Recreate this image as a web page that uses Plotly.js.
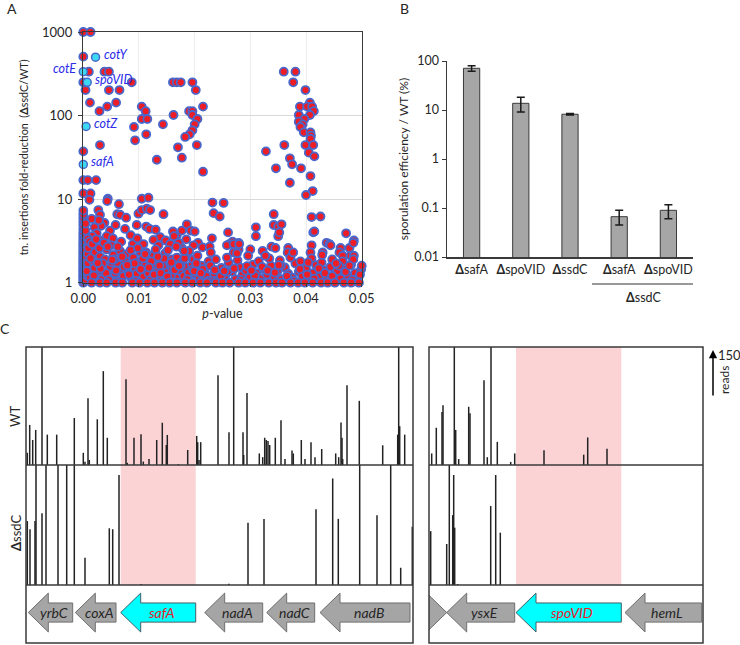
<!DOCTYPE html>
<html><head><meta charset="utf-8">
<script src="https://cdn.plot.ly/plotly-3.0.1.min.js"></script>
<style>html,body{margin:0;padding:0;background:#fff}#chart{width:740px;height:645px}</style>
</head><body><div id="chart"></div>
<script>
// ===== Panel A: transposon screen (p-value vs fold-reduction) =====
const highP = [0,0.0013,0,0.001,0.0038,0.0046,0,0.0087,0.0161,0.0168,0.0175,0.0196,0.0004,0.0046,0.0065,0.0202,0.0012,0.0059,0.0043,0.0029,0.0105,0.0112,0.019,0.0196,0.0215,0.0162,0.0196,0.0105,0.0115,0.0205,0.02,0.0143,0.0091,0.0113,0.0196,0.0191,0.0183,0.0093,0.0204,0.003,0.017,0,0.0177,0.0132,0.0215,0,0.0008,0.0023,0,0.0013,0.0044,0.0105,0.0117];
const highFold = [1000,1000,507,335,335,335,250,250,250,250,250,250,202,202,202,202,143,143,128,113,128,113,113,113,128,101.6,101.6,91,91,91,78.5,78.5,73,59.7,66.6,59.7,55.5,50.6,44.4,44.4,41.7,37.3,31.3,29.6,21.3,16.9,16.9,16.9,11.7,11.7,10.1,10.1,10.4];
const rightClusterP = [0.036,0.0381,0.0377,0.0399,0.0407,0.0389,0.0402,0.0411,0.0414,0.0387,0.0407,0.0397,0.0387,0.0394,0.039,0.0396,0.0408,0.0409,0.0408,0.0361,0.0399,0.0413,0.0328,0.0405,0.0371,0.0415,0.0375,0.0346,0.0391,0.0408,0.0371,0.0412,0.04];
const rightClusterFold = [335,335,250,202,143,128,128,128,113,101.6,101.6,91,84.5,78.5,73,63,63,57.4,52.5,44.4,44.4,44.4,37.3,36,30.8,32.5,26.1,23.4,23.4,18.9,15.7,12.5,11.2];
const midP = [0.0011,0.0043,0.0064,0.0027,0.003,0.0038,0.0032,0.0048,0.0061,0.0066,
0.0077,0.0075,0.0096,0.0099,0.0105,0.0114,0.012,0.0113,0.0119,0.0144,
0.0138,0.0126,0.0168,0.0161,0.0177,0.0186,0.0193,0.02,0.0206,0.0177,
0.0214,0.0227,0.0231,0.0234,0.0232,0.0245,0.0252,0.026,0.0268,0.0262,
0.0279,0.0279,0.027,0.03,0.031,0.0322,0.031,0.0342,0.0342,0.035,
0.0356,0.035,0.0338,0.0345,0.0368,0.0367,0.041,0.0408,0.041,0.0413,
0.0426,0.0437,0.0442,0.043,0.0444,0.0472,0.0478,0.0486,0.0485,0.048,
0.0462,0.046,0.0466,0.0486,0.0015,0.002,0.0024,0.0016,0.0028,0.0035,
0.0042,0.0053,0.0058,0.0068,0.0085,0.0089,0.0097,0.0108,0.013,0.0135,
0.0148,0.0156,0.0163,0.0171,0.0185,0.0198,0.0258,0.027,0.028,0.0352,
0.0415];
const midFold = [9.8,9.5,8.7,7.4,6.5,5.2,4.8,4.2,6.6,6.5,
6.0,4.4,4.9,6.7,7.4,7.7,7.4,4.7,4.4,6.6,
3.5,3.25,3.7,4.1,4.2,5.0,4.2,4.1,3.0,2.6,
2.65,2.7,3.4,6.8,9.1,6.2,9.0,4.0,3.1,2.9,
3.0,2.5,2.3,2.5,4.6,2.4,3.6,6.6,4.9,4.7,
5.0,3.6,2.7,2.6,2.6,2.3,2.8,2.3,6.1,4.0,
6.2,3.0,2.9,2.3,2.8,3.9,2.6,3.2,3.0,2.1,
2.6,2.3,2.1,2.1,5.8,4.6,3.9,3.6,5.6,3.2,
3.6,3.4,4.9,3.1,3.7,2.9,3.4,2.9,4.3,2.8,
3.2,2.9,3.6,3.0,3.3,2.8,2.8,2.9,2.9,4.0,
4.1];
const axisColP = [0,0,0,0,0,0,0,0,0,0, 0,0,0,0,0,0,0,0,0,0, 0,0,0,0,0,0,0,0,0,0,
0.0004,0.0004,0.0004,0.0004,0.0004,0.0004,0.0004,0.0004,0.0004,0.0004,
0.0008,0.0008,0.0008,0.0008,0.0008,0.0008];
const axisColFold = [1.0,1.06,1.12,1.18,1.23,1.31,1.37,1.44,1.52,1.61,
1.7,1.79,1.9,2.02,2.15,2.28,2.42,2.6,2.78,2.95,
3.15,3.4,3.7,4.0,4.4,4.9,5.4,6.0,6.6,7.3,
1.09,1.27,1.48,1.76,2.08,2.5,3.05,3.55,4.2,5.1,
1.2,1.42,1.72,2.2,2.75,3.35];
const bandLeftP = [0.0012,0.0015,0.0018,0.0021,0.0024,0.0027,0.003,0.0033,0.0036,0.0039,
0.0042,0.0045,0.0048,0.0051,0.0054,0.0057,0.006,0.0063,0.0066,0.0069,
0.0072,0.0075,0.0078,0.0081,0.0084,0.0087,0.009,0.0093,0.0096,0.0099,
0.0102,0.0105,0.0108,0.0111,0.0114,0.0117,0.012,0.0123,0.0126,0.0129,
0.0132,0.0135,0.0138,0.0141,0.0144,0.0147,0.015,0.0153,0.0156,0.0159,
0.0162,0.0165,0.0168,0.0171,0.0174,0.0177,0.018,0.0183,0.0186,0.0189,
0.0192,0.0195,0.0198,0.0201,
0.0013,0.002,0.0029,0.0035,0.0041,0.005,0.0056,0.0062,0.007,0.0077,
0.0085,0.0092,0.0098,0.0107,0.0113,0.0122,0.013,0.0137,0.0145,0.0152,
0.016,0.0167,0.0175,0.0182,0.019,0.0197,0.0205,0.0212,0.0218,0.0225,
0.0232,0.0009,0.0011,0.0016,0.0023,0.0037,0.0044];
const bandLeftFold = [1.15,1.42,1.8,2.3,1.25,1.6,2.05,1.1,1.35,1.9,
2.5,1.2,1.55,1.75,2.15,1.3,1.05,1.65,2.4,1.45,
1.2,1.85,2.2,1.35,1.6,1.12,2.0,1.5,1.28,1.75,
2.35,1.4,1.18,1.62,1.95,1.3,1.08,1.52,2.1,1.7,
1.22,1.4,1.85,1.15,1.58,2.25,1.33,1.1,1.68,1.9,
1.25,1.48,2.0,1.15,1.38,1.78,1.2,1.55,2.2,1.32,
1.05,1.62,1.9,1.28,
1.95,1.5,2.6,1.7,1.3,2.8,1.9,2.7,2.05,1.55,
2.45,1.7,2.6,1.95,2.3,1.8,2.5,1.6,1.95,2.45,
1.45,2.7,1.6,1.95,2.4,1.45,2.1,1.6,1.35,1.8,
1.15,2.6,3.1,2.9,3.3,3.0,2.7];
const bandRightP = [0.0208,0.0215,0.0221,0.0228,0.0235,0.0242,0.0248,0.0255,0.0261,0.0267,
0.0273,0.028,0.0286,0.0292,0.0299,0.0305,0.0311,0.0318,0.0324,0.033,
0.0337,0.0343,0.0349,0.0356,0.0362,0.0368,0.0375,0.0381,0.0387,0.0393,
0.04,0.0406,0.0412,0.0418,0.0425,0.0431,0.0437,0.0444,0.045,0.0456,
0.0462,0.0469,0.0475,0.0481,0.0488,0.0494,0.0499,
0.0238,0.0258,0.0277,0.0296,0.0315,0.0334,0.0353,0.0372,0.039,0.041,
0.0428,0.0447,0.0466,0.0485,0.05];
const bandRightFold = [1.12,1.45,1.2,1.6,1.3,1.08,1.5,1.22,1.75,1.35,
1.1,1.55,1.25,1.4,1.15,1.65,1.3,1.12,1.45,1.25,
1.6,1.18,1.38,1.1,1.52,1.28,1.15,1.7,1.35,1.2,
1.5,1.08,1.3,1.62,1.18,1.42,1.1,1.55,1.25,1.38,
1.12,1.48,1.22,1.65,1.3,1.15,1.45,
1.9,2.0,1.85,2.1,1.8,1.95,1.85,2.0,1.8,1.95,
1.75,1.9,1.8,1.9,1.6];
const extraBandP = [0.0006,0.0019,0.0031,0.0046,0.0059,0.0073,0.0082,0.0094,0.0103,0.0118,
0.0127,0.0139,0.0151,0.0164,0.0172,0.0187,0.0199,0.0211,0.0224,0.0236,
0.0247,0.0259,0.0271,0.0283,0.0294,0.0308,0.0321,0.0331,0.0344,0.0355,
0.0366,0.0378,0.0389,0.0402,0.0415,0.0423,0.0434,0.0447,0.0459,0.0471,
0.0483,0.0497,
0.0026,0.0052,0.0079,0.0111,0.0134,0.0158,0.0181,0.0203,0.0229,0.0253,
0.0276,0.0302,0.0327,0.0351,0.0377,0.0404,0.0429,0.0454,0.0478];
const extraBandFold = [1.38,1.22,1.48,1.08,1.4,1.55,1.25,1.05,1.45,1.52,
1.25,1.3,1.18,1.42,1.58,1.1,1.38,1.3,1.05,1.42,
1.2,1.35,1.48,1.08,1.58,1.22,1.55,1.4,1.32,1.6,
1.2,1.05,1.45,1.25,1.12,1.48,1.3,1.2,1.6,1.35,
1.08,1.25,
1.72,1.88,1.62,2.2,2.05,1.75,2.4,1.7,2.3,1.38,
2.25,1.4,2.1,1.62,2.3,1.75,2.15,1.7,1.6];
const bottomRowP = [0.0015,0.003,0.0042,0.0058,0.007,0.0088,0.0101,0.0115,0.0128,0.0142,0.0155,0.0168,0.0183,0.0196,0.021,0.0222,0.0238,0.025,0.0263,0.0279,0.0291,0.0305,0.0318,0.0333,0.0346,0.0357,0.0372,0.0386,0.0398,0.0412,0.0427,0.0439,0.0452,0.0468,0.0481,0.0495];
const bottomRowFold = [1,1,1,1,1,1,1,1,1,1,1,1,1,1,1,1,1,1,1,1,1,1,1,1,1,1,1,1,1,1,1,1,1,1,1,1];
const hlGenes = ['cotY','cotE','spoVID','cotZ','safA'];
const hlP = [0.0022,0,0.0007,0.0005,0];
const hlFold = [500,335,250,74,26];
const hlSide = ['right','left','right','right','right'];
const aTicks = [1,10,100,1000];
const aTickText = ['1','10','100','1000'];

// ===== Panel B: sporulation efficiency =====
const bLabels = ['<b>Δ</b>safA','<b>Δ</b>spoVID','<b>Δ</b>ssdC','<b>Δ</b>safA','<b>Δ</b>spoVID'];
const bValue = [71,13.7,8.2,0.0665,0.0897];
const bUpper = [80,18.2,8.45,0.0897,0.117];
const bLower = [61.6,9.1,7.95,0.045,0.0605];
const bTicks = [0.01,0.1,1,10,100];
const bTickText = ['0.01','0.1','1','10','100'];

// ===== Panel C: Tn-seq read profiles (position in bp, reads) =====
const wtLeftPos = [13,37,67,97,160,213,307,483,573,590,620,633,713,773,813,1000,1013,1080,1150,1173,1230,1307,1363,1403,1413,1523,1617,1707,1717,1730,1747,1920,2030,2077,2170,2177,2210,2333,2367,2387,2403,2420,2437,2493,2550,2590,2660,2673,2753,2790,2850,2890,2957,3097,3127,3150,3160,3167,3210,3333,3567,3717,3727,3737,3787];
const wtLeftReads = [39,128,80,112,400,97,97,150,39,10,213,16,146,300,87,274,7,87,98,11,19,80,135,64,96,3,48,93,73,16,73,287,105,400,105,32,230,37,25,87,80,77,64,87,143,19,46,37,80,19,73,25,51,37,25,136,87,19,255,205,63,97,400,124,97];
const ssdcLeftPos = [13,40,90,100,160,200,320,407,483,590,833,867,930,1150,2030,2220,2380,2900,3067,3123,3337,3510,3647,3747,3863];
const ssdcLeftReads = [204,178,204,400,229,400,400,400,400,87,181,178,351,3,4,199,211,242,340,211,400,223,400,55,186];
const wtRightPos = [27,73,130,140,253,267,297,397,410,550,583,620,683,817,857,1150,1547,1587,1780];
const wtRightReads = [37,119,169,191,400,112,19,186,165,271,25,400,74,10,37,47,33,88,52];
const ssdcRightPos = [17,177,203,237,247,257,287,617,667,713];
const ssdcRightReads = [172,131,400,223,351,183,3,252,351,167];
const leftGenes = ['yrbC','coxA','safA','nadA','nadC','nadB'];
const leftStart = [23,493,947,1787,2407,2940];
const leftEnd = [467,900,1697,2367,2887,3840];
const leftStrand = ['-','-','-','-','-','-'];
const rightGenes = ['','ysxE','spoVID','hemL'];
const rightStart = [-600,177,870,1960];
const rightEnd = [177,857,1923,2727];
const rightStrand = ['+','-','-','-'];
const leftTarget = 'safA', rightTarget = 'spoVID';
const leftSpan = 3870, rightSpan = 2740;
const scaleReads = 150;

// ===== drawing =====
const W = 740, H = 645;
const px = v => v / W, py = v => 1 - v / H;
const FONT = 'Lato, "Noto Sans", sans-serif';
const TXT = '#262626';
const traces = [];
const shapes = [];
const ann = [];
function note(o){ ann.push(Object.assign({xanchor:'center', yanchor:'middle', showarrow:false}, o)); }

const allP = [].concat(highP, rightClusterP, midP, axisColP, bandLeftP, bandRightP, extraBandP, bottomRowP);
const allFold = [].concat(highFold, rightClusterFold, midFold, axisColFold, bandLeftFold, bandRightFold, extraBandFold, bottomRowFold);
traces.push({type:'scatter', mode:'markers', x:allP, y:allFold, xaxis:'x', yaxis:'y', cliponaxis:false,
  marker:{size:8, color:'#EE1C24', line:{color:'#4868CC', width:1.8}}, hoverinfo:'skip', showlegend:false});
traces.push({type:'scatter', mode:'markers', x:hlP, y:hlFold, xaxis:'x', yaxis:'y', cliponaxis:false,
  marker:{size:8, color:'#3DD8F2', line:{color:'#4868CC', width:1.5}}, hoverinfo:'skip', showlegend:false});
hlGenes.forEach((g,i)=>{
  note({xref:'x', yref:'y', x:hlP[i], y:Math.log10(hlFold[i]), text:'<i>'+g+'</i>',
    xanchor: hlSide[i]==='right'?'left':'right', xshift: hlSide[i]==='right'?6:-5, yshift:3,
    font:{family:FONT, size:12.5, color:'#2B2BE8'}});
});

// Panel B
const bx = bValue.map((_,i)=>i);
traces.push({type:'bar', x:bx, y:bValue, xaxis:'x2', yaxis:'y2', width:0.33,
  marker:{color:'#A6A6A6', line:{color:'#3a3a3a', width:1}},
  error_y:{type:'data', symmetric:false, array:bUpper.map((u,i)=>u-bValue[i]), arrayminus:bLower.map((l,i)=>bValue[i]-l),
    color:'#1a1a1a', thickness:1.5, width:4}, hoverinfo:'skip', showlegend:false});
shapes.push({type:'line', xref:'paper', yref:'paper', x0:px(592), x1:px(693), y0:py(284), y1:py(284), line:{color:'#333', width:1}});
note({xref:'paper', yref:'paper', x:px(643), y:py(297), text:'<b>Δ</b>ssdC', font:{family:FONT, size:12.5, color:TXT}});

// Panel C spikes
function spikes(pos, reads, xa, ya){
  traces.push({type:'bar', x:pos, y:reads, xaxis:xa, yaxis:ya, width:15, marker:{color:'#222', line:{width:0}}, hoverinfo:'skip', showlegend:false});
}
spikes(wtLeftPos, wtLeftReads, 'x3', 'y3');
spikes(ssdcLeftPos, ssdcLeftReads, 'x3', 'y4');
spikes(wtRightPos, wtRightReads, 'x4', 'y6');
spikes(ssdcRightPos, ssdcRightReads, 'x4', 'y7');

// gene arrows
const HEAD = 200, BODY = 0.33, HEADW = 0.67, CY = 0.05;
function genes(names, st, en, strand, target, xa, ya){
  names.forEach((g,i)=>{
    const s = st[i], e = en[i];
    let xs, ys;
    if (strand[i]==='-'){
      const b = s + HEAD;
      xs = [s, b, b, e, e, b, b, s];
    } else {
      const b = e - HEAD;
      xs = [e, b, b, s, s, b, b, e];
    }
    ys = [CY, CY+HEADW, CY+BODY, CY+BODY, CY-BODY, CY-BODY, CY-HEADW, CY];
    const isT = g===target;
    traces.push({type:'scatter', mode:'lines', x:xs, y:ys, xaxis:xa, yaxis:ya, fill:'toself',
      fillcolor: isT ? '#00FFFF' : '#A5A5A5', line:{color: isT ? '#3f5f66' : '#6f6f6f', width:1},
      hoverinfo:'skip', showlegend:false});
    if (g) note({xref:xa, yref:ya, x:(s+e)/2+38, y:CY, text:'<i>'+g+'</i>',
      font:{family:FONT, size:14, color: isT ? '#E8202A' : '#262626'}});
    if (isT) shapes.push({type:'rect', xref:xa, yref:'paper', x0:s, x1:e, y0:py(585), y1:py(347),
      fillcolor:'#FBD3D5', line:{width:0}, layer:'below'});
  });
}
genes(leftGenes, leftStart, leftEnd, leftStrand, leftTarget, 'x3', 'y5');
genes(rightGenes, rightStart, rightEnd, rightStrand, rightTarget, 'x4', 'y8');

// frames for panel C
[[26,413],[429,703]].forEach(([a,b])=>{
  shapes.push({type:'rect', xref:'paper', yref:'paper', x0:px(a), x1:px(b), y0:py(643), y1:py(347), line:{color:'#3a3a3a', width:1.5}, layer:'above'});
  shapes.push({type:'line', xref:'paper', yref:'paper', x0:px(a), x1:px(b), y0:py(465), y1:py(465), line:{color:'#3a3a3a', width:1.5}, layer:'above'});
  shapes.push({type:'line', xref:'paper', yref:'paper', x0:px(a), x1:px(b), y0:py(585), y1:py(585), line:{color:'#3a3a3a', width:1.5}, layer:'above'});
});
note({xref:'paper', yref:'paper', x:px(15), y:py(417), text:'WT', textangle:-90, font:{family:FONT, size:13, color:TXT}});
note({xref:'paper', yref:'paper', x:px(16), y:py(533), text:'<b>Δ</b>ssdC', textangle:-90, font:{family:FONT, size:13, color:TXT}});
// scale bar (150 reads)
ann.push({xref:'paper', yref:'paper', x:px(713), y:py(350), ax:0, ay:47, text:'', showarrow:true, arrowhead:2, arrowsize:1.1, arrowwidth:1.5, arrowcolor:'#000'});
note({xref:'paper', yref:'paper', x:px(716), y:py(355), xanchor:'left', text:String(scaleReads), font:{family:FONT, size:13, color:TXT}});
note({xref:'paper', yref:'paper', x:px(724), y:py(380), text:'reads', textangle:-90, font:{family:FONT, size:12, color:TXT}});

// panel letters
note({xref:'paper', yref:'paper', x:px(12), y:py(8), text:'A', font:{family:FONT, size:14, color:TXT}});
note({xref:'paper', yref:'paper', x:px(405), y:py(8), text:'B', font:{family:FONT, size:14, color:TXT}});
note({xref:'paper', yref:'paper', x:px(5), y:py(329), text:'C', font:{family:FONT, size:14, color:TXT}});

const hid = {visible:false, fixedrange:true};
const layout = {
  width:W, height:H, margin:{l:0, r:0, t:0, b:0}, paper_bgcolor:'#fff', plot_bgcolor:'rgba(0,0,0,0)',
  font:{family:FONT, color:TXT, size:12}, showlegend:false, hovermode:false, barmode:'overlay',
  xaxis:{domain:[px(83.3), px(361.7)], range:[0,0.05], anchor:'y', tickvals:[0,0.01,0.02,0.03,0.04,0.05], tickformat:'.2f',
    showgrid:true, gridcolor:'#ececec', gridwidth:1, zeroline:false, showline:true, mirror:true, linecolor:'#3a3a3a', linewidth:1.5,
    ticks:'outside', ticklen:3, tickcolor:'#3a3a3a', tickfont:{size:13, color:TXT},
    title:{text:'<i>p</i>-value', font:{size:12.5, color:TXT}, standoff:4}},
  yaxis:{domain:[py(282.7), py(32)], type:'log', range:[0,3], anchor:'x', tickvals:aTicks, ticktext:aTickText,
    showgrid:true, gridcolor:'#d9d9d9', gridwidth:1, zeroline:false, showline:true, mirror:true, linecolor:'#3a3a3a', linewidth:1.5,
    ticks:'outside', ticklen:4, tickcolor:'#3a3a3a', tickfont:{size:13, color:TXT}, ticklabelstandoff:3,
    title:{text:'tn. insertions fold-reduction  (<b>Δ</b>ssdC/WT)', font:{size:10.8, color:TXT}, standoff:11}},
  xaxis2:{domain:[px(447), px(693)], range:[-0.5,4.5], anchor:'y2', tickvals:bx, ticktext:bLabels, showgrid:false, zeroline:false,
    showline:true, linecolor:'#3a3a3a', linewidth:1.5, ticks:'', tickfont:{size:12.5, color:TXT}},
  yaxis2:{domain:[py(257), py(61)], type:'log', range:[-2,2], anchor:'x2', tickvals:bTicks, ticktext:bTickText, showgrid:false, zeroline:false,
    showline:true, linecolor:'#3a3a3a', linewidth:1.5, ticks:'outside', ticklen:4, tickcolor:'#3a3a3a', tickfont:{size:12.5, color:TXT},
    title:{text:'sporulation efficiency / WT (%)', font:{size:12, color:TXT}, standoff:3}},
  xaxis3:Object.assign({domain:[px(26), px(413)], range:[0,leftSpan], anchor:'y5'}, hid),
  yaxis3:Object.assign({domain:[py(465), py(347)], range:[0,377], anchor:'x3'}, hid),
  yaxis4:Object.assign({domain:[py(585), py(465)], range:[0,383], anchor:'x3'}, hid),
  yaxis5:Object.assign({domain:[py(643), py(585)], range:[-1,1], anchor:'x3'}, hid),
  xaxis4:Object.assign({domain:[px(429), px(703)], range:[0,rightSpan], anchor:'y8'}, hid),
  yaxis6:Object.assign({domain:[py(465), py(347)], range:[0,377], anchor:'x4'}, hid),
  yaxis7:Object.assign({domain:[py(585), py(465)], range:[0,383], anchor:'x4'}, hid),
  yaxis8:Object.assign({domain:[py(643), py(585)], range:[-1,1], anchor:'x4'}, hid),
  shapes:shapes, annotations:ann
};
Plotly.newPlot('chart', traces, layout, {staticPlot:true, displayModeBar:false});
</script></body></html>
